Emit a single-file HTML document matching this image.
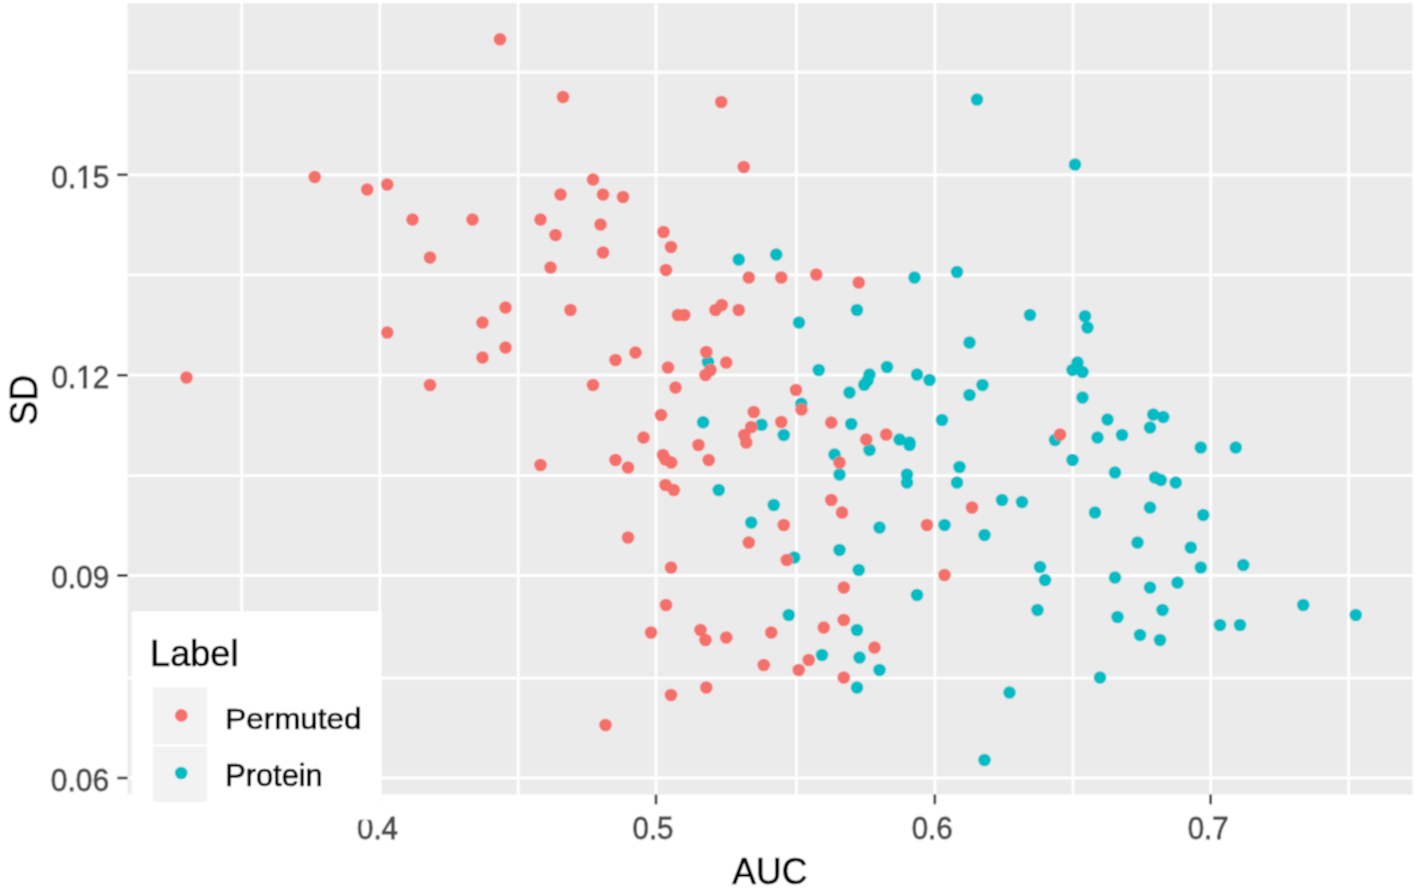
<!DOCTYPE html>
<html><head><meta charset="utf-8"><style>
html,body{margin:0;padding:0;background:#fff;width:1416px;height:892px;overflow:hidden}
svg{display:block}
text{font-family:"Liberation Sans",sans-serif}
.ax{font-size:31.5px;fill:#4D4D4D;stroke:#4D4D4D;stroke-width:0.9px}
.tt{font-size:38.5px;fill:#000;stroke:#000;stroke-width:0.7px}
.lg{font-size:31px;fill:#000;stroke:#000;stroke-width:0.7px}
</style></head><body>
<svg width="1416" height="892" viewBox="0 0 1416 892">
<defs><filter id="soft" x="0" y="0" width="1416" height="892" filterUnits="userSpaceOnUse"><feConvolveMatrix order="3" kernelMatrix="1 2 1 2 4 2 1 2 1" divisor="16" edgeMode="duplicate"/></filter></defs><g filter="url(#soft)"><rect width="1416" height="892" fill="#fff"/>
<rect x="127.6" y="3.1" width="1284.90" height="791.40" fill="#EBEBEB"/>
<line x1="241.70" y1="3.1" x2="241.70" y2="794.5" stroke="#fff" stroke-width="2.8"/>
<line x1="518.20" y1="3.1" x2="518.20" y2="794.5" stroke="#fff" stroke-width="2.8"/>
<line x1="796.50" y1="3.1" x2="796.50" y2="794.5" stroke="#fff" stroke-width="2.8"/>
<line x1="1073.00" y1="3.1" x2="1073.00" y2="794.5" stroke="#fff" stroke-width="2.8"/>
<line x1="1348.70" y1="3.1" x2="1348.70" y2="794.5" stroke="#fff" stroke-width="2.8"/>
<line x1="127.6" y1="72.10" x2="1412.5" y2="72.10" stroke="#fff" stroke-width="2.8"/>
<line x1="127.6" y1="274.80" x2="1412.5" y2="274.80" stroke="#fff" stroke-width="2.8"/>
<line x1="127.6" y1="475.60" x2="1412.5" y2="475.60" stroke="#fff" stroke-width="2.8"/>
<line x1="127.6" y1="678.10" x2="1412.5" y2="678.10" stroke="#fff" stroke-width="2.8"/>
<line x1="379.85" y1="3.1" x2="379.85" y2="794.5" stroke="#fff" stroke-width="2.8"/>
<line x1="656.00" y1="3.1" x2="656.00" y2="794.5" stroke="#fff" stroke-width="2.8"/>
<line x1="934.85" y1="3.1" x2="934.85" y2="794.5" stroke="#fff" stroke-width="2.8"/>
<line x1="1210.70" y1="3.1" x2="1210.70" y2="794.5" stroke="#fff" stroke-width="2.8"/>
<line x1="127.6" y1="174.80" x2="1412.5" y2="174.80" stroke="#fff" stroke-width="2.8"/>
<line x1="127.6" y1="375.20" x2="1412.5" y2="375.20" stroke="#fff" stroke-width="2.8"/>
<line x1="127.6" y1="575.50" x2="1412.5" y2="575.50" stroke="#fff" stroke-width="2.8"/>
<line x1="127.6" y1="778.00" x2="1412.5" y2="778.00" stroke="#fff" stroke-width="2.8"/>
<circle cx="977" cy="99.5" r="6.3" fill="#00BCC5"/>
<circle cx="1075" cy="164.5" r="6.3" fill="#00BCC5"/>
<circle cx="738.75" cy="259.5" r="6.3" fill="#00BCC5"/>
<circle cx="776.25" cy="254.5" r="6.3" fill="#00BCC5"/>
<circle cx="799" cy="322.5" r="6.3" fill="#00BCC5"/>
<circle cx="708" cy="362" r="6.3" fill="#00BCC5"/>
<circle cx="703.1" cy="422.3" r="6.3" fill="#00BCC5"/>
<circle cx="761.5" cy="424.8" r="6.3" fill="#00BCC5"/>
<circle cx="783.75" cy="435" r="6.3" fill="#00BCC5"/>
<circle cx="801.25" cy="403.75" r="6.3" fill="#00BCC5"/>
<circle cx="718.75" cy="490" r="6.3" fill="#00BCC5"/>
<circle cx="773.75" cy="505" r="6.3" fill="#00BCC5"/>
<circle cx="751.25" cy="522.5" r="6.3" fill="#00BCC5"/>
<circle cx="794.25" cy="557.5" r="6.3" fill="#00BCC5"/>
<circle cx="788.75" cy="615" r="6.3" fill="#00BCC5"/>
<circle cx="914.5" cy="277.5" r="6.3" fill="#00BCC5"/>
<circle cx="957" cy="272" r="6.3" fill="#00BCC5"/>
<circle cx="857" cy="310" r="6.3" fill="#00BCC5"/>
<circle cx="1030" cy="315" r="6.3" fill="#00BCC5"/>
<circle cx="1085" cy="316.25" r="6.3" fill="#00BCC5"/>
<circle cx="1087.5" cy="327.5" r="6.3" fill="#00BCC5"/>
<circle cx="969.5" cy="342.5" r="6.3" fill="#00BCC5"/>
<circle cx="818.75" cy="370" r="6.3" fill="#00BCC5"/>
<circle cx="887" cy="367" r="6.3" fill="#00BCC5"/>
<circle cx="869.5" cy="374.5" r="6.3" fill="#00BCC5"/>
<circle cx="864.2" cy="384.8" r="6.3" fill="#00BCC5"/>
<circle cx="867.5" cy="380.5" r="6.3" fill="#00BCC5"/>
<circle cx="849.5" cy="392.5" r="6.3" fill="#00BCC5"/>
<circle cx="917" cy="374.5" r="6.3" fill="#00BCC5"/>
<circle cx="929.5" cy="380" r="6.3" fill="#00BCC5"/>
<circle cx="969.5" cy="395" r="6.3" fill="#00BCC5"/>
<circle cx="982.5" cy="385" r="6.3" fill="#00BCC5"/>
<circle cx="1077.5" cy="362.5" r="6.3" fill="#00BCC5"/>
<circle cx="1072.5" cy="370" r="6.3" fill="#00BCC5"/>
<circle cx="1082.5" cy="372" r="6.3" fill="#00BCC5"/>
<circle cx="1077.7" cy="368.1" r="6.3" fill="#00BCC5"/>
<circle cx="1082.5" cy="397.5" r="6.3" fill="#00BCC5"/>
<circle cx="851.25" cy="424" r="6.3" fill="#00BCC5"/>
<circle cx="942" cy="420" r="6.3" fill="#00BCC5"/>
<circle cx="1107.5" cy="419.5" r="6.3" fill="#00BCC5"/>
<circle cx="869.5" cy="450" r="6.3" fill="#00BCC5"/>
<circle cx="899.5" cy="439.5" r="6.3" fill="#00BCC5"/>
<circle cx="909.5" cy="442.5" r="6.3" fill="#00BCC5"/>
<circle cx="909.5" cy="445" r="6.3" fill="#00BCC5"/>
<circle cx="834.5" cy="454.5" r="6.3" fill="#00BCC5"/>
<circle cx="839.5" cy="474.5" r="6.3" fill="#00BCC5"/>
<circle cx="907" cy="474.5" r="6.3" fill="#00BCC5"/>
<circle cx="907" cy="482.5" r="6.3" fill="#00BCC5"/>
<circle cx="959.5" cy="467" r="6.3" fill="#00BCC5"/>
<circle cx="957" cy="482.5" r="6.3" fill="#00BCC5"/>
<circle cx="1055" cy="440" r="6.3" fill="#00BCC5"/>
<circle cx="1097.5" cy="437.5" r="6.3" fill="#00BCC5"/>
<circle cx="1122" cy="435" r="6.3" fill="#00BCC5"/>
<circle cx="1072.5" cy="460" r="6.3" fill="#00BCC5"/>
<circle cx="1115" cy="472.5" r="6.3" fill="#00BCC5"/>
<circle cx="879.5" cy="527.5" r="6.3" fill="#00BCC5"/>
<circle cx="944.5" cy="525" r="6.3" fill="#00BCC5"/>
<circle cx="1002" cy="500" r="6.3" fill="#00BCC5"/>
<circle cx="1022" cy="502" r="6.3" fill="#00BCC5"/>
<circle cx="984.5" cy="535" r="6.3" fill="#00BCC5"/>
<circle cx="1095" cy="512.5" r="6.3" fill="#00BCC5"/>
<circle cx="839.5" cy="550" r="6.3" fill="#00BCC5"/>
<circle cx="858.75" cy="570" r="6.3" fill="#00BCC5"/>
<circle cx="1040" cy="567" r="6.3" fill="#00BCC5"/>
<circle cx="1045" cy="580" r="6.3" fill="#00BCC5"/>
<circle cx="1115" cy="577.5" r="6.3" fill="#00BCC5"/>
<circle cx="917" cy="595" r="6.3" fill="#00BCC5"/>
<circle cx="1037.5" cy="610" r="6.3" fill="#00BCC5"/>
<circle cx="1117.5" cy="617" r="6.3" fill="#00BCC5"/>
<circle cx="857" cy="630" r="6.3" fill="#00BCC5"/>
<circle cx="822" cy="655" r="6.3" fill="#00BCC5"/>
<circle cx="859.5" cy="657.5" r="6.3" fill="#00BCC5"/>
<circle cx="879.5" cy="670" r="6.3" fill="#00BCC5"/>
<circle cx="857" cy="687.5" r="6.3" fill="#00BCC5"/>
<circle cx="1009.5" cy="692.5" r="6.3" fill="#00BCC5"/>
<circle cx="1100" cy="677.5" r="6.3" fill="#00BCC5"/>
<circle cx="984.5" cy="760" r="6.3" fill="#00BCC5"/>
<circle cx="1153.25" cy="414.5" r="6.3" fill="#00BCC5"/>
<circle cx="1163.25" cy="417" r="6.3" fill="#00BCC5"/>
<circle cx="1150" cy="427.5" r="6.3" fill="#00BCC5"/>
<circle cx="1200.75" cy="447.5" r="6.3" fill="#00BCC5"/>
<circle cx="1235.75" cy="447.5" r="6.3" fill="#00BCC5"/>
<circle cx="1155" cy="477.5" r="6.3" fill="#00BCC5"/>
<circle cx="1160.75" cy="480" r="6.3" fill="#00BCC5"/>
<circle cx="1175.75" cy="482.5" r="6.3" fill="#00BCC5"/>
<circle cx="1150" cy="507.5" r="6.3" fill="#00BCC5"/>
<circle cx="1203.25" cy="515" r="6.3" fill="#00BCC5"/>
<circle cx="1137.5" cy="542.5" r="6.3" fill="#00BCC5"/>
<circle cx="1190.75" cy="547.5" r="6.3" fill="#00BCC5"/>
<circle cx="1200.75" cy="567.5" r="6.3" fill="#00BCC5"/>
<circle cx="1243.25" cy="565" r="6.3" fill="#00BCC5"/>
<circle cx="1150" cy="587.5" r="6.3" fill="#00BCC5"/>
<circle cx="1177.5" cy="582.5" r="6.3" fill="#00BCC5"/>
<circle cx="1303.25" cy="605" r="6.3" fill="#00BCC5"/>
<circle cx="1355.75" cy="615" r="6.3" fill="#00BCC5"/>
<circle cx="1162.5" cy="610" r="6.3" fill="#00BCC5"/>
<circle cx="1220" cy="625" r="6.3" fill="#00BCC5"/>
<circle cx="1240" cy="625" r="6.3" fill="#00BCC5"/>
<circle cx="1140" cy="635" r="6.3" fill="#00BCC5"/>
<circle cx="1160" cy="640" r="6.3" fill="#00BCC5"/>
<circle cx="314.75" cy="177.0" r="6.3" fill="#F5706A"/>
<circle cx="367.25" cy="189.5" r="6.3" fill="#F5706A"/>
<circle cx="387.25" cy="184.5" r="6.3" fill="#F5706A"/>
<circle cx="412.5" cy="219.5" r="6.3" fill="#F5706A"/>
<circle cx="472.5" cy="219.5" r="6.3" fill="#F5706A"/>
<circle cx="430" cy="257.5" r="6.3" fill="#F5706A"/>
<circle cx="387.25" cy="332.5" r="6.3" fill="#F5706A"/>
<circle cx="482.5" cy="322.5" r="6.3" fill="#F5706A"/>
<circle cx="482.5" cy="357.5" r="6.3" fill="#F5706A"/>
<circle cx="186.5" cy="377.5" r="6.3" fill="#F5706A"/>
<circle cx="430" cy="385" r="6.3" fill="#F5706A"/>
<circle cx="500" cy="39.25" r="6.3" fill="#F5706A"/>
<circle cx="563" cy="97" r="6.3" fill="#F5706A"/>
<circle cx="721.25" cy="102" r="6.3" fill="#F5706A"/>
<circle cx="743.75" cy="167" r="6.3" fill="#F5706A"/>
<circle cx="593" cy="179.5" r="6.3" fill="#F5706A"/>
<circle cx="560.5" cy="194.5" r="6.3" fill="#F5706A"/>
<circle cx="603" cy="194.5" r="6.3" fill="#F5706A"/>
<circle cx="623" cy="197" r="6.3" fill="#F5706A"/>
<circle cx="540.5" cy="219.5" r="6.3" fill="#F5706A"/>
<circle cx="600.5" cy="224.5" r="6.3" fill="#F5706A"/>
<circle cx="555.5" cy="235" r="6.3" fill="#F5706A"/>
<circle cx="603" cy="252.5" r="6.3" fill="#F5706A"/>
<circle cx="550.5" cy="267.5" r="6.3" fill="#F5706A"/>
<circle cx="663.5" cy="232" r="6.3" fill="#F5706A"/>
<circle cx="671" cy="247" r="6.3" fill="#F5706A"/>
<circle cx="666" cy="270" r="6.3" fill="#F5706A"/>
<circle cx="748.75" cy="277.5" r="6.3" fill="#F5706A"/>
<circle cx="781.25" cy="277.5" r="6.3" fill="#F5706A"/>
<circle cx="505.5" cy="307.5" r="6.3" fill="#F5706A"/>
<circle cx="505.5" cy="347.5" r="6.3" fill="#F5706A"/>
<circle cx="570.5" cy="310" r="6.3" fill="#F5706A"/>
<circle cx="678" cy="315" r="6.3" fill="#F5706A"/>
<circle cx="684.25" cy="315" r="6.3" fill="#F5706A"/>
<circle cx="715.5" cy="310" r="6.3" fill="#F5706A"/>
<circle cx="721.75" cy="305" r="6.3" fill="#F5706A"/>
<circle cx="738.75" cy="310" r="6.3" fill="#F5706A"/>
<circle cx="615.5" cy="360" r="6.3" fill="#F5706A"/>
<circle cx="635.5" cy="352.5" r="6.3" fill="#F5706A"/>
<circle cx="668" cy="367.5" r="6.3" fill="#F5706A"/>
<circle cx="706.25" cy="352" r="6.3" fill="#F5706A"/>
<circle cx="710.5" cy="370" r="6.3" fill="#F5706A"/>
<circle cx="705.5" cy="375" r="6.3" fill="#F5706A"/>
<circle cx="726.25" cy="362.5" r="6.3" fill="#F5706A"/>
<circle cx="593" cy="385" r="6.3" fill="#F5706A"/>
<circle cx="675.5" cy="387.5" r="6.3" fill="#F5706A"/>
<circle cx="661" cy="415" r="6.3" fill="#F5706A"/>
<circle cx="753.75" cy="412" r="6.3" fill="#F5706A"/>
<circle cx="781.25" cy="422" r="6.3" fill="#F5706A"/>
<circle cx="796" cy="390" r="6.3" fill="#F5706A"/>
<circle cx="801.5" cy="409.5" r="6.3" fill="#F5706A"/>
<circle cx="751.25" cy="427" r="6.3" fill="#F5706A"/>
<circle cx="744.25" cy="435" r="6.3" fill="#F5706A"/>
<circle cx="746.25" cy="442.5" r="6.3" fill="#F5706A"/>
<circle cx="643.5" cy="437.5" r="6.3" fill="#F5706A"/>
<circle cx="698.5" cy="445" r="6.3" fill="#F5706A"/>
<circle cx="663" cy="455" r="6.3" fill="#F5706A"/>
<circle cx="665.5" cy="459.5" r="6.3" fill="#F5706A"/>
<circle cx="671.25" cy="462.5" r="6.3" fill="#F5706A"/>
<circle cx="708.75" cy="460" r="6.3" fill="#F5706A"/>
<circle cx="615.5" cy="460" r="6.3" fill="#F5706A"/>
<circle cx="628" cy="467.5" r="6.3" fill="#F5706A"/>
<circle cx="540.5" cy="465" r="6.3" fill="#F5706A"/>
<circle cx="665.5" cy="485" r="6.3" fill="#F5706A"/>
<circle cx="673.75" cy="490" r="6.3" fill="#F5706A"/>
<circle cx="783.75" cy="525" r="6.3" fill="#F5706A"/>
<circle cx="628" cy="537.5" r="6.3" fill="#F5706A"/>
<circle cx="748.75" cy="542.5" r="6.3" fill="#F5706A"/>
<circle cx="786.75" cy="560" r="6.3" fill="#F5706A"/>
<circle cx="671" cy="567.5" r="6.3" fill="#F5706A"/>
<circle cx="666" cy="605" r="6.3" fill="#F5706A"/>
<circle cx="651" cy="632.5" r="6.3" fill="#F5706A"/>
<circle cx="700.5" cy="630" r="6.3" fill="#F5706A"/>
<circle cx="705.5" cy="640" r="6.3" fill="#F5706A"/>
<circle cx="726.25" cy="637.5" r="6.3" fill="#F5706A"/>
<circle cx="771.25" cy="632.5" r="6.3" fill="#F5706A"/>
<circle cx="763.75" cy="665" r="6.3" fill="#F5706A"/>
<circle cx="706.25" cy="687.5" r="6.3" fill="#F5706A"/>
<circle cx="671" cy="695" r="6.3" fill="#F5706A"/>
<circle cx="605.5" cy="725" r="6.3" fill="#F5706A"/>
<circle cx="816.25" cy="274.5" r="6.3" fill="#F5706A"/>
<circle cx="858.75" cy="282.5" r="6.3" fill="#F5706A"/>
<circle cx="831.25" cy="422.5" r="6.3" fill="#F5706A"/>
<circle cx="866.25" cy="439.5" r="6.3" fill="#F5706A"/>
<circle cx="886.25" cy="434.5" r="6.3" fill="#F5706A"/>
<circle cx="839.5" cy="462.5" r="6.3" fill="#F5706A"/>
<circle cx="1060" cy="434.5" r="6.3" fill="#F5706A"/>
<circle cx="831.25" cy="500" r="6.3" fill="#F5706A"/>
<circle cx="842" cy="512.5" r="6.3" fill="#F5706A"/>
<circle cx="927" cy="525" r="6.3" fill="#F5706A"/>
<circle cx="972" cy="507.5" r="6.3" fill="#F5706A"/>
<circle cx="944.5" cy="575" r="6.3" fill="#F5706A"/>
<circle cx="843.75" cy="587.5" r="6.3" fill="#F5706A"/>
<circle cx="843.75" cy="620" r="6.3" fill="#F5706A"/>
<circle cx="823.75" cy="627.5" r="6.3" fill="#F5706A"/>
<circle cx="874.5" cy="647.5" r="6.3" fill="#F5706A"/>
<circle cx="808.75" cy="660" r="6.3" fill="#F5706A"/>
<circle cx="798.75" cy="670" r="6.3" fill="#F5706A"/>
<circle cx="843.75" cy="677.5" r="6.3" fill="#F5706A"/>
<line x1="117.3" y1="174.80" x2="127.6" y2="174.80" stroke="#333" stroke-width="2.6"/>
<line x1="117.3" y1="375.20" x2="127.6" y2="375.20" stroke="#333" stroke-width="2.6"/>
<line x1="117.3" y1="575.50" x2="127.6" y2="575.50" stroke="#333" stroke-width="2.6"/>
<line x1="117.3" y1="778.00" x2="127.6" y2="778.00" stroke="#333" stroke-width="2.6"/>
<line x1="379.85" y1="794.5" x2="379.85" y2="804.30" stroke="#333" stroke-width="2.6"/>
<line x1="656.00" y1="794.5" x2="656.00" y2="804.30" stroke="#333" stroke-width="2.6"/>
<line x1="934.85" y1="794.5" x2="934.85" y2="804.30" stroke="#333" stroke-width="2.6"/>
<line x1="1210.70" y1="794.5" x2="1210.70" y2="804.30" stroke="#333" stroke-width="2.6"/>
<text transform="translate(109.43,187.72) scale(0.9483,1.0190)" text-anchor="end" class="ax">0.15</text>
<text transform="translate(109.14,387.64) scale(0.9420,0.9963)" text-anchor="end" class="ax">0.12</text>
<text transform="translate(109.30,587.89) scale(0.9476,1.0136)" text-anchor="end" class="ax">0.09</text>
<text transform="translate(109.11,790.96) scale(0.9504,1.0107)" text-anchor="end" class="ax">0.06</text>
<text transform="translate(377.53,838.60) scale(0.9350,0.9915)" text-anchor="middle" class="ax">0.4</text>
<text transform="translate(653.01,838.60) scale(0.9350,0.9915)" text-anchor="middle" class="ax">0.5</text>
<text transform="translate(932.14,838.60) scale(0.9350,0.9915)" text-anchor="middle" class="ax">0.6</text>
<text transform="translate(1208.11,838.60) scale(0.9350,0.9915)" text-anchor="middle" class="ax">0.7</text>
<rect x="77.5" y="184.6" width="5.45" height="4.6" fill="#fff"/><rect x="87.0" y="184.6" width="5.0" height="4.6" fill="#fff"/>
<rect x="77.5" y="384.6" width="5.45" height="4.6" fill="#fff"/><rect x="87.0" y="384.6" width="5.0" height="4.6" fill="#fff"/>
<text transform="translate(769.83,884.15) scale(0.9224,0.9758)" text-anchor="middle" class="tt">AUC</text>
<text transform="translate(36.77,399.87) rotate(-90) scale(0.9456,0.9910)" text-anchor="middle" class="tt">SD</text>
<rect x="131.5" y="611.3" width="250.2" height="208.5" fill="#fff"/>
<rect x="153.2" y="687.5" width="53.8" height="56.6" fill="#F2F2F2"/>
<rect x="153.2" y="746.6" width="53.8" height="55.4" fill="#F2F2F2"/>
<circle cx="181.3" cy="715.4" r="6.3" fill="#F5706A"/>
<circle cx="181.2" cy="773.0" r="6.3" fill="#00BCC5"/>
<text transform="translate(150.12,666.26) scale(0.9379,0.9769)" text-anchor="start" class="tt">Label</text>
<text transform="translate(225.30,729.45) scale(1.0137,0.9498)" text-anchor="start" class="lg">Permuted</text>
<text transform="translate(225.13,786.48) scale(0.9942,0.9935)" text-anchor="start" class="lg">Protein</text>
</g>
</svg>
</body></html>
